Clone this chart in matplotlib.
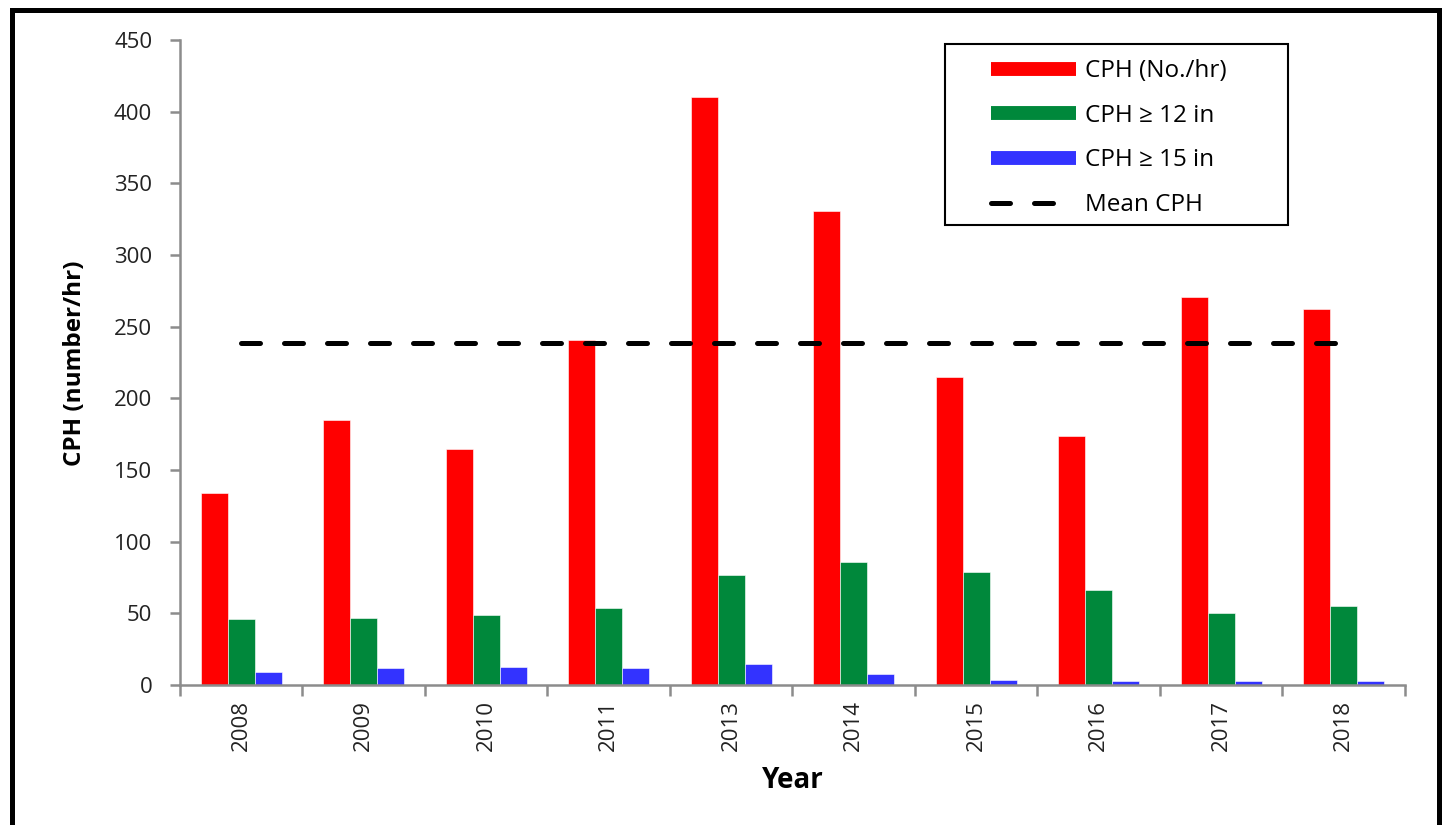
import numpy as np
import matplotlib
matplotlib.use("Agg")
import matplotlib.pyplot as plt
from matplotlib.lines import Line2D
from matplotlib.patches import Rectangle

years     = ["2008", "2009", "2010", "2011", "2013", "2014", "2015", "2016", "2017", "2018"]
cph_all   = [134, 185, 165, 241, 410, 331, 215, 174, 271, 262]
cph_12in  = [46, 47, 49, 54, 77, 86, 79, 66, 50, 55]
cph_15in  = [9, 12, 12.5, 12, 14.5, 8, 3.5, 2.5, 2.5, 2.5]
mean_cph  = np.mean(cph_all)

series_labels = ["CPH (No./hr)", "CPH \u2265 12 in", "CPH \u2265 15 in"]
series_colors = ["#FF0000", "#00883B", "#3333FF"]

plt.rcParams["font.family"] = ["Open Sans", "DejaVu Sans"]

fig = plt.figure(figsize=(14.49, 8.25), dpi=100)
ax = fig.add_axes([0.1242, 0.1697, 0.8454, 0.7818])

x = np.arange(len(years))
w = 0.22
for j, (vals, col) in enumerate(zip([cph_all, cph_12in, cph_15in], series_colors)):
    ax.bar(x + (j - 1) * w, vals, width=w, color=col, edgecolor="white", linewidth=0.4, zorder=2)

# mean line over the bars
ax.plot([x[0], x[-1]], [mean_cph, mean_cph], color="black", lw=3.6,
        dashes=(3.8, 4.8), dash_capstyle="round", zorder=3)

ax.set_xlim(-0.5, len(years) - 0.5)
ax.set_ylim(0, 450)
ax.set_yticks(np.arange(0, 451, 50))
ax.set_xticks(x)
ax.set_xticklabels(years, rotation=90)
ax.set_xticks(np.arange(-0.5, len(years), 1.0), minor=True)

for s in ["top", "right"]:
    ax.spines[s].set_visible(False)
for s in ["left", "bottom"]:
    ax.spines[s].set_color("#8C8C8C")
    ax.spines[s].set_linewidth(1.8)

ax.tick_params(axis="y", direction="out", length=7, width=1.8, color="#8C8C8C",
               labelsize=16, labelcolor="#222222", pad=13)
ax.tick_params(axis="x", which="major", length=0, labelsize=16, labelcolor="#222222", pad=11)
ax.tick_params(axis="x", which="minor", direction="out", length=8, width=1.8, color="#8C8C8C")

fig.text(75 / 1449, 1 - 363 / 825, "CPH (number/hr)", rotation=90, ha="center", va="center",
         fontsize=17.5, fontweight="bold")
ax.set_xlabel("Year", fontsize=20, fontweight="bold")
ax.xaxis.set_label_coords(0.5, -0.125)

handles = [Line2D([0], [0], color=c, lw=10, solid_capstyle="butt") for c in series_colors]
handles.append(Line2D([0], [0], color="black", lw=3.6, dashes=(3.8, 4.8), dash_capstyle="round"))
fig.legend(handles, series_labels + ["Mean CPH"], loc="upper left",
           bbox_to_anchor=(979 / 1449, 1 - 47 / 825), frameon=False, fontsize=17.5,
           handlelength=3.5, handletextpad=0.35, labelspacing=0.85, borderpad=0)

fig.add_artist(Rectangle((945 / 1449, 1 - 225 / 825), 343 / 1449, 181 / 825,
                         transform=fig.transFigure, fill=False, edgecolor="black", lw=1.5))
fig.add_artist(Rectangle((12 / 1449, -0.2), 1427 / 1449, 1.2 - 10 / 825,
                         transform=fig.transFigure, fill=False, edgecolor="black", lw=3.6,
                         clip_on=False))

fig.savefig("out.png", dpi=100)
